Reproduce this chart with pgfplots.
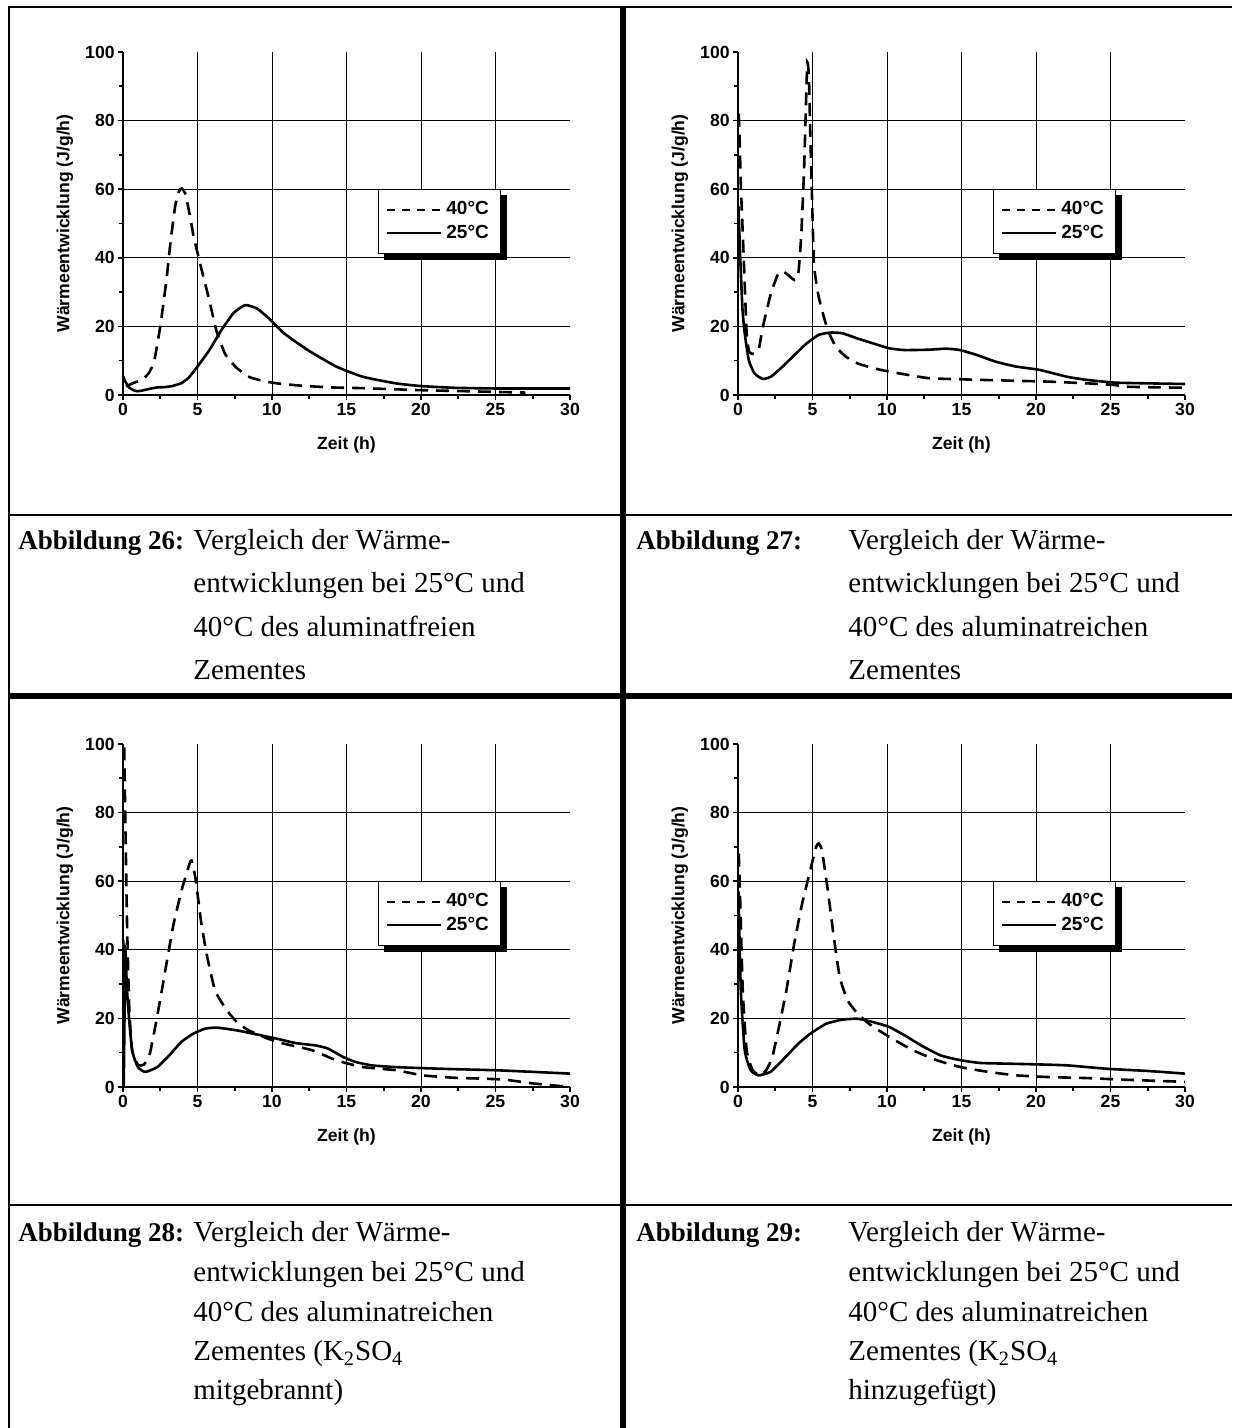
\documentclass[border=0pt]{standalone}
\usepackage{fontspec}
\setmainfont{Liberation Serif}
\newfontfamily\arial{Liberation Sans}
\usepackage{pgfplots}
\pgfplotsset{compat=1.18}
\usetikzlibrary{backgrounds}

\newcommand\chartfont{\arial\bfseries\fontsize{8.8}{10}\selectfont}
\newcommand\capfont{\fontsize{14.5}{17}\selectfont}
\newcommand\capbold{\bfseries\fontsize{13.5}{17}\selectfont}

% solid black shadow behind the legend box named lgd
\newcommand\legshadow{%
  \begin{pgfonlayer}{background}
    \fill[black] ([shift={(3pt,-3pt)}]lgd.south west) rectangle ([shift={(3pt,-3pt)}]lgd.north east);
  \end{pgfonlayer}}

\pgfplotsset{
  waerme/.style={
    scale only axis, width=223.5pt, height=171.5pt,
    anchor=south west,
    xmin=0, xmax=30, ymin=0, ymax=100,
    axis lines=left, axis line style={-, line width=1pt},
    xtick={0,5,...,30}, ytick={0,20,...,100},
    minor x tick num=1, minor y tick num=1,
    tick align=outside, tick style={line width=0.8pt, black},
    major tick length=2.5pt, minor tick length=2pt,
    extra x ticks={5,10,15,20,25}, extra x tick labels={},
    extra x tick style={xmajorgrids=true, major tick length=0pt},
    extra y ticks={20,40,60,80}, extra y tick labels={},
    extra y tick style={ymajorgrids=true, major tick length=0pt},
    grid style={line width=0.5pt, black},
    ticklabel style={font=\chartfont, inner sep=1.5pt},
    /pgf/number format/assume math mode=true,
    label style={font=\chartfont},
    xlabel={Zeit (h)}, ylabel={Wärmeentwicklung (J/g/h)},
    xlabel style={at={(axis description cs:0.5,-0.146)}, anchor=center},
    ylabel style={at={(axis description cs:-0.13,0.5)}, anchor=center},
    legend style={name=lgd, at={(axis cs:17.1,60)}, anchor=north west,
      draw=black, line width=0.5pt, fill=white,
      font=\arial\bfseries\fontsize{9.5}{11}\selectfont,
      inner xsep=3.75pt, inner ysep=4pt, row sep=-0.5pt,
      cells={anchor=west}},
  },
  t40/.style={black, line width=1.3pt, dash pattern=on 6.5pt off 4pt, smooth, tension=0.3,
    legend image code/.code={\draw[black, line width=1.3pt, dash pattern=on 4pt off 3.5pt] (0pt,0pt) -- (27pt,0pt);}},
  t25/.style={black, line width=1.3pt, smooth, tension=0.3,
    legend image code/.code={\draw[black, line width=1.3pt] (0pt,0pt) -- (27pt,0pt);}},
}

\begin{document}
\begin{tikzpicture}
\useasboundingbox (0,0) rectangle (616pt,714pt);

% table frame
\draw[line width=1pt] (4pt,710.5pt) -- (616pt,710.5pt);
\draw[line width=1pt] (4.5pt,711pt) -- (4.5pt,0pt);
\draw[line width=3pt] (311.5pt,711pt) -- (311.5pt,0pt);
\draw[line width=3pt] (4pt,366pt) -- (616pt,366pt);
\draw[line width=1pt] (4pt,456.5pt) -- (616pt,456.5pt);
\draw[line width=1pt] (4pt,111.5pt) -- (616pt,111.5pt);

% Abbildung 26
\begin{axis}[waerme, at={(61.5pt,516.5pt)}]
\addplot[t40] coordinates {(0.2,2.5)(0.7,3.5)(1.3,4.5)(1.75,6.5)(2.1,10)(2.5,20)(2.9,33)(3.2,45)(3.5,55)(3.75,59.3)(3.95,60.2)(4.2,58.5)(4.5,52)(4.75,46)(5.25,37)(5.8,27.5)(6.25,19)(6.85,12)(7.6,8)(8.5,5.2)(9.5,4)(10.5,3.3)(12,2.7)(14,2.2)(16,2)(18,1.7)(20,1.4)(22,1.2)(24,1.0)(26,0.8)(27,0.7)};
\addlegendentry{40°C}
\addplot[t25] coordinates {(0,5.5)(0.15,4)(0.4,2.2)(0.7,1.4)(0.95,1.1)(1.3,1.3)(1.8,1.8)(2.3,2.2)(2.8,2.3)(3.3,2.6)(3.9,3.4)(4.4,5)(5,8.3)(5.8,13.1)(6.6,18.9)(7.4,23.8)(8,25.8)(8.3,26.2)(9,25.2)(9.8,22.3)(10.8,18)(12.4,13.1)(14.3,8.3)(16.1,5.3)(18.3,3.4)(20,2.6)(22.2,2.1)(25,1.9)(30,1.9)};
\addlegendentry{25°C}
\end{axis}
\legshadow

% Abbildung 27
\begin{axis}[waerme, at={(369pt,516.5pt)}]
\addplot[t40] coordinates {(0.05,82)(0.1,76)(0.19,61)(0.32,47)(0.45,32.5)(0.58,18)(0.75,12.5)(1.1,12)(1.4,13.5)(1.65,19.5)(2.2,29.5)(2.7,35.4)(3.0,36)(3.3,35.2)(3.8,33.5)(4.05,35.5)(4.25,47)(4.44,66.5)(4.57,86)(4.65,97)(4.76,93)(4.84,78)(4.97,57)(5.1,38)(5.37,29.6)(5.63,24.8)(6.03,18.9)(6.56,14.1)(7.23,11.2)(8.03,9.2)(9.1,7.8)(10.15,6.8)(11.5,5.8)(12.8,4.9)(14.7,4.6)(18.1,4.2)(20.8,3.9)(23.4,3.4)(25.3,2.9)(26.1,2.4)(30,2.1)};
\addlegendentry{40°C}
\addplot[t25] coordinates {(0.03,55)(0.15,40)(0.3,25)(0.45,18)(0.72,10.2)(1.1,6.3)(1.65,4.7)(2.2,5.3)(3,8.3)(3.8,11.7)(4.6,15)(5.4,17.5)(6.2,18.2)(7,18)(8,16.5)(9.1,15)(10.15,13.6)(11.2,13.1)(12.8,13.2)(14,13.5)(14.9,13.1)(16,11.7)(17.3,9.7)(18.65,8.3)(20.25,7.3)(22.1,5.3)(23.4,4.4)(25.3,3.6)(27.4,3.4)(30,3.2)};
\addlegendentry{25°C}
\end{axis}
\legshadow

% Abbildung 28
\begin{axis}[waerme, at={(61.5pt,170.5pt)}]
\addplot[t40] coordinates {(0.08,99)(0.16,77)(0.27,48)(0.42,23)(0.61,10.7)(1.0,6.5)(1.4,6.5)(1.8,9.7)(2.2,18.4)(2.6,28)(3,38)(3.4,47.6)(3.93,57.3)(4.46,65)(4.6,66)(4.86,61)(5.26,47.6)(5.65,38)(6.19,28)(6.98,22.3)(7.65,18.9)(8.44,16.5)(9.77,14)(10.83,12.6)(12.7,10.7)(14.3,7.8)(16.1,5.8)(18.3,4.9)(20.1,3.4)(22.2,2.7)(24.4,2.4)(25.7,2.1)(27.6,1.0)(30,0)};
\addlegendentry{40°C}
\addplot[t25] coordinates {(0.05,0)(0.1,20)(0.16,40)(0.25,30)(0.35,23)(0.61,10.7)(1,5.8)(1.5,4.4)(2.3,5.8)(3.1,9.2)(3.9,13.1)(4.7,15.5)(5.5,17)(6.3,17.3)(7.65,16.5)(9,15.3)(10.3,14.1)(11.6,12.8)(12.95,12.1)(13.75,11.2)(14.8,8.7)(15.6,7.3)(16.7,6.3)(18.3,5.8)(20.1,5.5)(22.25,5.2)(24.9,4.9)(27.55,4.4)(30,3.9)};
\addlegendentry{25°C}
\end{axis}
\legshadow

% Abbildung 29
\begin{axis}[waerme, at={(369pt,170.5pt)}]
\addplot[t40] coordinates {(0.05,68)(0.13,57)(0.32,28)(0.58,10.7)(0.98,4.9)(1.5,3.4)(1.9,4.9)(2.3,8.7)(2.7,16.5)(3.24,28)(3.77,41.7)(4.3,53.4)(4.84,63)(5.24,70)(5.42,71)(5.63,69)(6.03,57.3)(6.43,43.7)(6.83,32)(7.36,25.2)(8.03,21.4)(8.8,18.4)(10.15,14.6)(11.75,10.7)(13.34,7.8)(14.94,5.8)(16.8,4.4)(18.65,3.4)(20.8,2.9)(23.4,2.6)(26.1,2.1)(30,1.5)};
\addlegendentry{40°C}
\addplot[t25] coordinates {(0.03,57)(0.19,28)(0.45,10.7)(0.85,4.9)(1.38,3.4)(2.18,4.4)(2.98,7.8)(4.04,12.6)(4.84,15.5)(5.9,18.4)(6.96,19.6)(8.03,19.9)(9.09,18.9)(10.15,17.5)(11.2,15)(12.3,12.1)(13.6,9.2)(14.94,7.8)(16.26,7)(18.12,6.8)(20,6.6)(22.1,6.3)(24.8,5.3)(27.4,4.7)(30,3.9)};
\addlegendentry{25°C}
\end{axis}
\legshadow

% captions
\begin{scope}[every node/.style={anchor=base west, inner sep=0pt, font=\capfont}]
\node at (9pt,439pt) {\capbold Abbildung 26:};
\node at (96.5pt,439pt) {Vergleich der Wärme-};
\node at (96.5pt,417.5pt) {entwicklungen bei 25°C und};
\node at (96.5pt,395.75pt) {40°C des aluminatfreien};
\node at (96.5pt,374pt) {Zementes};

\node at (318pt,439pt) {\capbold Abbildung 27:};
\node at (424pt,439pt) {Vergleich der Wärme-};
\node at (424pt,417.5pt) {entwicklungen bei 25°C und};
\node at (424pt,395.75pt) {40°C des aluminatreichen};
\node at (424pt,374pt) {Zementes};

\node at (9pt,93pt) {\capbold Abbildung 28:};
\node at (96.5pt,93pt) {Vergleich der Wärme-};
\node at (96.5pt,73pt) {entwicklungen bei 25°C und};
\node at (96.5pt,53pt) {40°C des aluminatreichen};
\node at (96.5pt,33.5pt) {Zementes (K\textsubscript{2}SO\textsubscript{4}};
\node at (96.5pt,14pt) {mitgebrannt)};

\node at (318pt,93pt) {\capbold Abbildung 29:};
\node at (424pt,93pt) {Vergleich der Wärme-};
\node at (424pt,73pt) {entwicklungen bei 25°C und};
\node at (424pt,53pt) {40°C des aluminatreichen};
\node at (424pt,33.5pt) {Zementes (K\textsubscript{2}SO\textsubscript{4}};
\node at (424pt,14pt) {hinzugefügt)};
\end{scope}
\end{tikzpicture}
\end{document}
